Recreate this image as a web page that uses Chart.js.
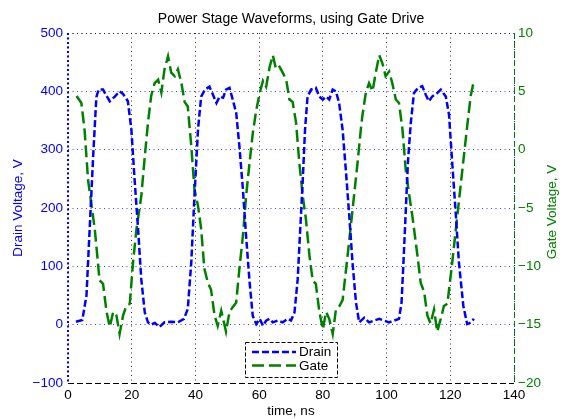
<!DOCTYPE html>
<html><head><meta charset="utf-8">
<script src="https://cdn.jsdelivr.net/npm/chart.js@4/dist/chart.umd.min.js"></script>
<style>html,body{margin:0;padding:0;background:#fff;}canvas{display:block;}</style>
</head><body>
<canvas id="c" width="563" height="419"></canvas>
<script>
// ---- data ----
const drainTime = [2.5,4.5,5.8,6.8,7.9,8.9,9.6,11.0,11.8,13.1,14.7,16.2,17.2,18.8,19.9,20.9,22.0,23.0,24.1,25.1,26.0,27.3,28.7,30.3,32.4,34.5,36.4,37.6,38.7,39.7,40.8,41.8,43.0,44.4,45.5,46.6,47.6,48.7,49.6,50.7,51.7,52.8,53.8,54.9,55.9,57.0,58.0,59.1,60.2,61.2,62.2,63.3,64.3,65.8,67.4,69.0,70.0,71.1,72.1,72.9,73.7,74.4,75.2,76.3,77.8,78.9,80.0,81.0,82.0,83.1,84.1,85.1,86.2,87.2,88.3,89.3,90.4,91.4,93.0,94.5,96.1,97.7,99.2,100.8,102.4,103.9,104.7,105.3,106.0,106.7,107.6,108.6,109.9,111.2,112.3,113.3,114.3,115.9,117.0,118.6,119.6,120.6,121.7,122.7,124.1,125.3,126.6,127.4];
const drainVolts = [5,8,50,164,289,390,403,403,395,383,391,400,396,383,334,249,164,78,21,4,0,3,-4,4,5,4,10,27,107,221,334,391,403,408,394,380,391,389,403,406,386,363,306,232,152,73,15,1,10,-2,7,10,4,7,4,10,7,21,78,164,249,334,391,403,406,391,386,391,386,403,400,380,334,266,186,107,38,4,12,4,7,10,7,4,7,10,38,107,192,278,346,397,406,409,394,383,391,397,403,391,360,278,192,107,32,1,4,10];
const gateTime = [2.7,4.2,5.2,6.3,7.4,8.4,9.4,9.9,11.0,12.1,13.1,14.2,15.2,16.2,17.3,18.3,19.4,20.4,21.5,23.0,24.1,25.1,26.1,27.2,28.3,29.3,30.3,31.4,32.4,33.5,34.5,35.6,36.6,37.6,38.7,39.7,40.8,41.8,42.8,43.9,44.9,46.0,47.0,48.1,48.7,49.6,50.7,51.7,52.8,53.8,54.9,55.9,57.0,58.0,59.1,60.2,61.2,62.2,63.3,64.3,65.3,66.4,67.4,68.5,69.5,70.5,71.6,72.6,73.7,74.7,75.8,76.8,77.8,78.9,80.0,81.0,82.0,83.1,84.1,85.2,86.2,87.8,89.3,90.9,91.9,92.4,93.5,94.5,95.6,96.6,97.7,98.7,99.7,100.8,101.8,102.9,103.9,105.0,106.0,107.0,108.1,109.7,110.7,111.8,112.8,113.8,114.9,115.9,117.0,118.0,119.1,120.6,122.2,123.8,125.3,126.4,127.4];
const gateVolts = [4.6,4.0,1.7,-2.6,-4.8,-6.8,-9.7,-11.2,-11.5,-13.9,-15.2,-13.9,-14.2,-15.8,-14.2,-13.4,-13.2,-9.7,-6.8,-4.0,-0.6,2.3,4.6,5.7,6.0,4.9,6.9,8.0,6.6,6.3,6.9,5.7,4.1,3.7,0.3,-3.4,-4.8,-6.8,-10.2,-11.4,-12.0,-14.2,-15.1,-13.8,-14.5,-15.6,-13.9,-13.5,-13.1,-10.2,-7.4,-4.0,-1.1,1.4,3.4,4.9,5.9,5.4,7.1,8.1,6.9,7.1,6.6,6.0,4.3,4.1,2.3,-1.1,-4.0,-6.0,-9.1,-11.2,-11.5,-13.9,-15.4,-13.9,-14.5,-15.8,-13.7,-13.4,-12.9,-9.0,-5.2,-1.1,1.7,2.9,4.9,5.7,5.0,6.6,8.1,7.4,6.3,6.7,5.7,4.3,4.0,1.7,-1.7,-3.7,-5.7,-9.1,-11.4,-12.2,-14.2,-14.9,-13.7,-15.6,-14.5,-13.4,-13.2,-9.7,-5.7,-1.7,2.0,4.6,5.9];
const timeTicks = [0,20,40,60,80,100,120,140];
const drainTicks = [-100,0,100,200,300,400,500];
const gateTicks = [-20,-15,-10,-5,0,5,10];
const seriesNames = ['Drain','Gate'];
const chartTitle = 'Power Stage Waveforms, using Gate Drive';
const xTitle = 'time, ns';
const yLeftTitle = 'Drain Voltage, V';
const yRightTitle = 'Gate Voltage, V';

// ---- styling ----
const FONT = "'Liberation Sans', Arial, Helvetica, sans-serif";
const BLUE = '#0000ff';
const GREEN = '#008000';
const minus = v => String(v).replace('-', '\u2212');

const frame = {
  id: 'frame',
  afterDatasetsDraw(chart) {
    const {ctx, chartArea: a} = chart;
    ctx.save();
    ctx.lineWidth = 1; ctx.strokeStyle = '#222'; ctx.setLineDash([1,3.5]);
    ctx.beginPath(); ctx.moveTo(a.left, a.top + 0.5); ctx.lineTo(a.right, a.top + 0.5); ctx.stroke();
    ctx.lineWidth = 2; ctx.strokeStyle = BLUE; ctx.setLineDash([2,2.5]);
    ctx.beginPath(); ctx.moveTo(a.left, a.top); ctx.lineTo(a.left, a.bottom); ctx.stroke();
    ctx.lineWidth = 1; ctx.strokeStyle = BLUE; ctx.setLineDash([1,3]);
    ctx.beginPath(); ctx.moveTo(a.right + 0.5, a.top); ctx.lineTo(a.right + 0.5, a.bottom); ctx.stroke();
    ctx.strokeStyle = GREEN; ctx.setLineDash([6,3]);
    ctx.beginPath(); ctx.moveTo(a.right + 0.5, a.top); ctx.lineTo(a.right + 0.5, a.bottom); ctx.stroke();
    ctx.strokeStyle = '#000'; ctx.setLineDash([6,3]);
    ctx.beginPath(); ctx.moveTo(a.left, a.bottom + 0.5); ctx.lineTo(a.right, a.bottom + 0.5); ctx.stroke();
    ctx.restore();
  },
  afterDraw(chart) {
    const {ctx, chartArea: a} = chart;
    ctx.save();
    ctx.font = '13.5px ' + FONT; ctx.fillStyle = GREEN;
    ctx.textAlign = 'center'; ctx.textBaseline = 'middle';
    ctx.translate(552, (a.top + a.bottom) / 2 + 4);
    ctx.rotate(-Math.PI / 2);
    ctx.fillText(yRightTitle, 0, 0);
    ctx.restore();
    const w = 92, h = 35;
    const x0 = Math.round((a.left + a.right) / 2 - w / 2), y0 = Math.round(a.bottom - 6 - h);
    ctx.save();
    ctx.fillStyle = '#fff'; ctx.fillRect(x0, y0, w, h);
    ctx.strokeStyle = '#000'; ctx.lineWidth = 1; ctx.setLineDash([4,2]);
    ctx.strokeRect(x0 + 0.5, y0 + 0.5, w, h);
    chart.data.datasets.forEach((ds, i) => {
      const y = y0 + 10 + i * 13.5;
      ctx.setLineDash(ds.borderDash); ctx.strokeStyle = ds.borderColor; ctx.lineWidth = ds.borderWidth;
      ctx.beginPath(); ctx.moveTo(x0 + 7, y); ctx.lineTo(x0 + 51, y); ctx.stroke();
      ctx.setLineDash([]);
      ctx.fillStyle = '#000'; ctx.font = '13.5px ' + FONT; ctx.textBaseline = 'middle'; ctx.textAlign = 'left';
      ctx.fillText(ds.label, x0 + 54, y + 0.5);
    });
    ctx.restore();
  }
};

new Chart(document.getElementById('c'), {
  type: 'line',
  data: {
    datasets: [
      { label: seriesNames[0], yAxisID: 'y',
        data: drainTime.map((t, i) => ({x: t, y: drainVolts[i]})),
        borderColor: BLUE, borderWidth: 2.5, borderDash: [7,3], pointRadius: 0, fill: false, tension: 0 },
      { label: seriesNames[1], yAxisID: 'y2',
        data: gateTime.map((t, i) => ({x: t, y: gateVolts[i]})),
        borderColor: GREEN, borderWidth: 2.5, borderDash: [12,5], pointRadius: 0, fill: false, tension: 0 }
    ]
  },
  options: {
    responsive: false, animation: false, devicePixelRatio: 1,
    layout: { padding: 0 },
    font: { family: FONT },
    plugins: {
      legend: { display: false },
      tooltip: { enabled: false },
      title: { display: true, text: chartTitle, color: '#000', fullSize: false,
        font: { family: FONT, size: 14, weight: 'normal' }, padding: { top: 10.6, bottom: 5.6 } }
    },
    scales: {
      x: { type: 'linear', position: 'bottom', min: 0, max: 140,
        afterBuildTicks: s => { s.ticks = timeTicks.map(v => ({value: v})); },
        afterFit: s => { s.height = 36; },
        ticks: { color: '#000', padding: 4, maxRotation: 0, autoSkip: false,
          font: { family: FONT, size: 13.5 }, callback: v => minus(v) },
        grid: { color: '#333', lineWidth: 1, drawTicks: false },
        border: { display: false, dash: [1,3.5] },
        title: { display: true, text: xTitle, color: '#000', font: { family: FONT, size: 13.5 }, padding: { top: 0, bottom: 0 } }
      },
      y: { type: 'linear', position: 'left', min: -100, max: 500,
        afterBuildTicks: s => { s.ticks = drainTicks.map(v => ({value: v})); },
        afterFit: s => { s.width = 68; },
        ticks: { color: BLUE, padding: 5, autoSkip: false,
          font: { family: FONT, size: 13.5 }, callback: v => minus(v) },
        grid: { color: 'rgba(40,40,255,0.9)', lineWidth: 1, drawTicks: false },
        border: { display: false, dash: [1,3.5] },
        title: { display: true, text: yLeftTitle, color: BLUE, font: { family: FONT, size: 13.5 }, padding: { top: 10, bottom: 0 } }
      },
      y2: { type: 'linear', position: 'right', min: -20, max: 10,
        afterBuildTicks: s => { s.ticks = gateTicks.map(v => ({value: v})); },
        afterFit: s => { s.width = 49; },
        ticks: { color: GREEN, padding: 4, autoSkip: false,
          font: { family: FONT, size: 13.5 }, callback: v => minus(v) },
        grid: { display: false, drawTicks: false },
        border: { display: false }
      }
    }
  },
  plugins: [frame]
});
</script>
</body></html>
